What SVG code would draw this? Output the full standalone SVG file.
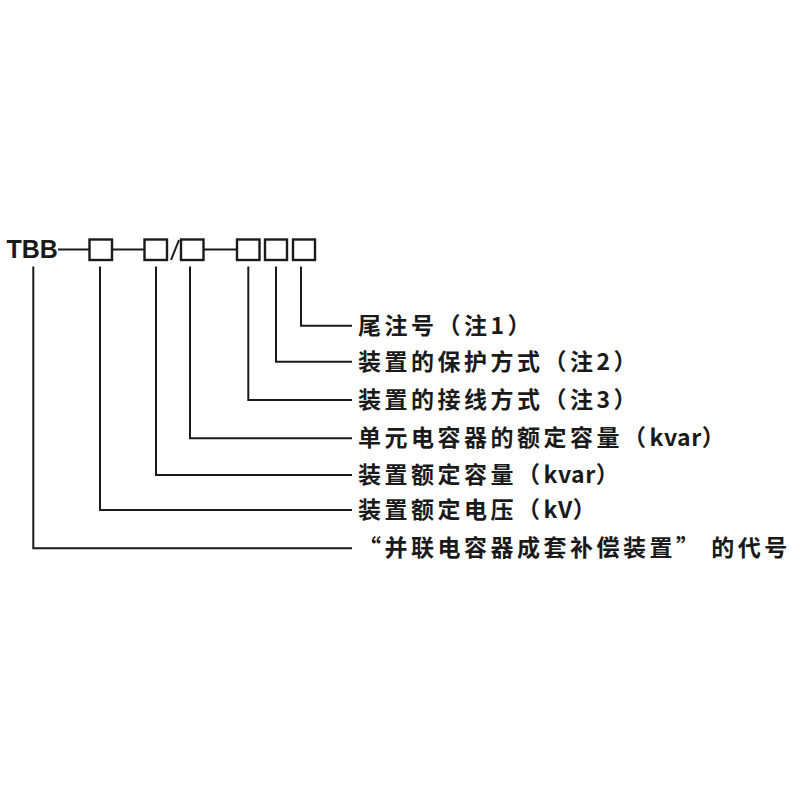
<svg xmlns="http://www.w3.org/2000/svg" width="800" height="800" viewBox="0 0 800 800">
<style>
.ln{fill:none;stroke:#1a1a1a;stroke-width:2}
.bx{fill:none;stroke:#1a1a1a;stroke-width:2.4}
.lb{font-family:"Noto Sans CJK SC","Noto Sans",sans-serif;font-size:23px;font-weight:bold;fill:#1a1a1a;letter-spacing:3.5px}
.lt{letter-spacing:0.5px}
.code{font-family:"Liberation Sans","Noto Sans",sans-serif;font-size:25px;font-weight:bold;fill:#1a1a1a}
</style>
<rect width="800" height="800" fill="#ffffff"/>
<g id="code">
<text class="code" x="6.5" y="258">TBB</text>
<line class="ln" x1="58" y1="249.5" x2="89" y2="249.5"/>
<rect id="box1" class="bx" x="89.5" y="239.5" width="22.5" height="20.5"/>
<line class="ln" x1="112" y1="249.5" x2="144.5" y2="249.5"/>
<rect id="box2" class="bx" x="144.5" y="239.5" width="22.5" height="20.5"/>
<line class="ln" x1="171" y1="260" x2="179" y2="240"/>
<rect id="box3" class="bx" x="181" y="239.5" width="22.5" height="20.5"/>
<line class="ln" x1="203.5" y1="249.5" x2="237" y2="249.5"/>
<rect id="box4" class="bx" x="237" y="239.5" width="22.5" height="20.5"/>
<rect id="box5" class="bx" x="265" y="239.5" width="22" height="20.5"/>
<rect id="box6" class="bx" x="293" y="239.5" width="22" height="20.5"/>
</g>
<g id="connectors">
<polyline class="ln" points="301,266.5 301,325.7 352,325.7"/>
<polyline class="ln" points="276,266.5 276,361.7 352,361.7"/>
<polyline class="ln" points="248.3,266.5 248.3,400 352,400"/>
<polyline class="ln" points="190,266.5 190,438.3 352,438.3"/>
<polyline class="ln" points="156,266.5 156,475 352,475"/>
<polyline class="ln" points="100,266.5 100,510 352,510"/>
<polyline class="ln" points="33.3,266.5 33.3,548.3 352,548.3"/>
</g>
<g id="label1"><text class="lb" x="358" y="334">尾注号（注1）</text></g>
<g id="label2"><text class="lb" x="358" y="370">装置的保护方式（注2）</text></g>
<g id="label3"><text class="lb" x="358" y="408">装置的接线方式（注3）</text></g>
<g id="label4"><text class="lb" x="358" y="446">单元电容器的额定容量（<tspan class="lt">kvar</tspan>）</text></g>
<g id="label5"><text class="lb" x="358" y="483">装置额定容量（<tspan class="lt">kvar</tspan>）</text></g>
<g id="label6"><text class="lb" x="358" y="518">装置额定电压（<tspan class="lt">kV</tspan>）</text></g>
<g id="label7"><text class="lb" x="358" y="556">“并联电容器成套补偿装置” 的代号</text></g>
</svg>
